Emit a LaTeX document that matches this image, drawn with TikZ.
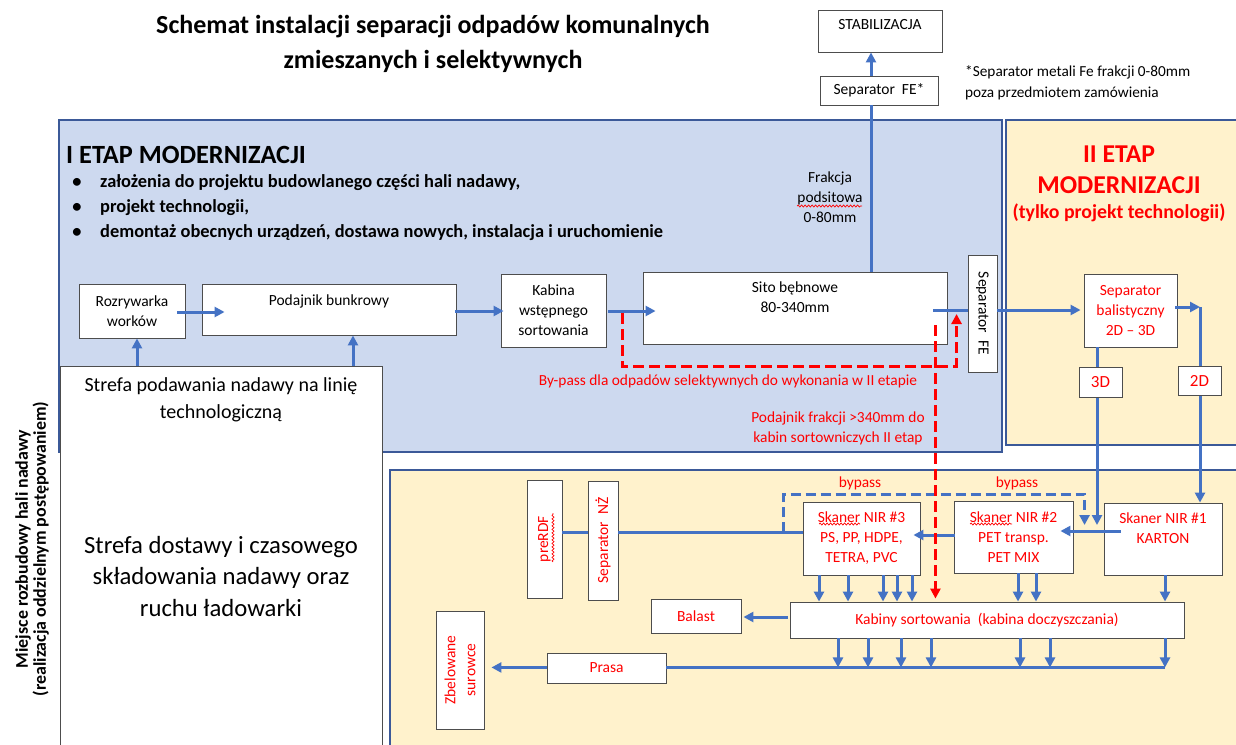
\documentclass[tikz,border=0pt]{standalone}
\usepackage{fontspec}
\setmainfont{Carlito}
\usetikzlibrary{calc,arrows.meta,decorations.pathmorphing}
\definecolor{flowblue}{HTML}{4472C4}
\definecolor{regblue}{HTML}{CDD9EF}
\definecolor{regyel}{HTML}{FFF2CC}
\definecolor{regline}{HTML}{3B5998}
\definecolor{boxline}{HTML}{4D4D4D}
\definecolor{txtred}{HTML}{FF0000}
\newcommand\fsbox{\fontsize{15.5}{20}\selectfont}
\newcommand\fstitle{\fontsize{26}{35}\selectfont\bfseries}
\newcommand\fsetapA{\fontsize{26.3}{30}\selectfont\bfseries}
\newcommand\fsbul{\fontsize{18.4}{25}\selectfont\bfseries}
\newcommand\fsnote{\fontsize{15.3}{21}\selectfont}
\newcommand\fsred{\fontsize{15.4}{20}\selectfont}
\newcommand\fsetapB{\fontsize{25.7}{31}\selectfont\bfseries}
\newcommand\fsetapC{\fontsize{19.8}{20}\selectfont\bfseries}
\newcommand\fsstrA{\fontsize{20}{27}\selectfont}
\newcommand\fsstrB{\fontsize{24.7}{31.5}\selectfont}
\newcommand\fsside{\fontsize{17.9}{18}\selectfont\bfseries}
\newcommand\fslab{\fontsize{17}{20}\selectfont}
\begin{document}
\begin{tikzpicture}[x=1pt,y=-1pt,
  box/.style={draw=boxline,line width=0.9pt,fill=white,inner sep=0pt,align=center,font=\fsbox},
  redbox/.style={box,text=txtred},
  lbl/.style={inner sep=0pt,anchor=center,align=center,font=\fsbox},
  txt/.style={inner sep=0pt,align=center},
  flow/.style={draw=flowblue,line width=3pt},
  arr/.style={flow,-{Triangle[length=10pt,width=10pt]}},
  bypassred/.style={draw=txtred,line width=3pt,dash pattern=on 11pt off 5pt,-{Triangle[length=10pt,width=10pt]}},
  bypassblue/.style={draw=flowblue,line width=3pt,dash pattern=on 10pt off 5pt,-{Triangle[length=10pt,width=10pt]}},
  wavy/.style={draw=txtred,line width=0.7pt,decorate,decoration={snake,amplitude=1pt,segment length=3.5pt}},
  region/.style={draw=regline,line width=1.2pt}]
\useasboundingbox (0,0) rectangle (1236,744);
\clip (0,0) rectangle (1236,744);
% regions
\path[region,fill=regblue] (59,120) rectangle (1002,452);
\path[region,fill=regyel] (1006,120) rectangle (1245,445);
\path[region,fill=regyel] (390,470) rectangle (1245,755);
% strefa
\node[draw=boxline,line width=0.9pt,fill=white,minimum width=322pt,minimum height=395pt,inner sep=0pt,anchor=north west] (strefa) at (60,366) {};
\node[txt,font=\fsstrA] (strefaA) at (221,399.5) {Strefa podawania nadawy na linię\\technologiczną};
\node[txt,font=\fsstrB] (strefaB) at (221,576.5) {Strefa dostawy i czasowego\\składowania nadawy oraz\\ruchu ładowarki};
\node[txt,font=\fsside,rotate=90] (side) at (32,549) {Miejsce rozbudowy hali nadawy\\(realizacja oddzielnym postępowaniem)};
% titles
\node[txt,font=\fstitle] (title) at (433,44) {Schemat instalacji separacji odpadów komunalnych\\zmieszanych i selektywnych};
\node[txt,font=\fsetapA,anchor=west] (etap1) at (66,155) {I ETAP MODERNIZACJI};
\node[txt,font=\fsbul,anchor=base west] (b1) at (100,187) {założenia do projektu budowlanego części hali nadawy,};
\node[txt,font=\fsbul,anchor=base west] (b2) at (100,212) {projekt technologii,};
\node[txt,font=\fsbul,anchor=base west] (b3) at (100,237) {demontaż obecnych urządzeń, dostawa nowych, instalacja i uruchomienie};
\foreach \yy/\nm in {187/d1,212/d2,237/d3}
  \node[txt,font=\fsbul,anchor=base] (\nm) at (77,\yy) {\textbullet};
\node[txt,font=\fsnote,align=left,anchor=west] (note) at (965,82.5) {*Separator metali Fe frakcji 0-80mm\\poza przedmiotem zamówienia};
\node[txt,font=\fsred] (frakcja) at (830,197.5) {Frakcja\\podsitowa\\0-80mm};
\node[txt,text=txtred,font=\fsetapB] (etap2) at (1119,170) {II ETAP\\MODERNIZACJI};
\node[txt,text=txtred,font=\fsetapC] (etap2b) at (1119,213) {(tylko projekt technologii)};
\node[txt,text=txtred,font=\fsred,anchor=base] (bypasslbl) at (728,385) {By-pass dla odpadów selektywnych do wykonania w II etapie};
\node[txt,text=txtred,font=\fsred] (podlbl) at (838,428) {Podajnik frakcji >340mm do\\kabin sortowniczych II etap};
\node[txt,text=txtred,font=\fsred,anchor=base] (bp1) at (860,487) {bypass};
\node[txt,text=txtred,font=\fsred,anchor=base] (bp2) at (1017,487) {bypass};
% boxes
\node[box,minimum width=124pt,minimum height=42pt,label={[lbl,yshift=-15pt]north:STABILIZACJA}] (stab) at (880,31) {};
\node[box,minimum width=118pt,minimum height=29pt] (sepfes) at (879,90.5) {Separator~~FE*};
\node[box,minimum width=106pt,minimum height=54pt] (rozr) at (132,311) {Rozrywarka\\worków};
\node[box,minimum width=254pt,minimum height=51pt,label={[lbl,yshift=-18pt]north:Podajnik bunkrowy}] (pod) at (329,309.5) {};
\node[box,minimum width=105pt,minimum height=73pt] (kab) at (553.5,310.5) {Kabina\\wstępnego\\sortowania};
\node[box,minimum width=304pt,minimum height=72pt,label={[lbl,yshift=-26pt]north:Sito bębnowe\\80-340mm}] (sito) at (795,308) {};
\node[box,rotate=-90,minimum width=117pt,minimum height=29pt] (sepfe) at (982.5,313.5) {Separator~~FE};
\node[redbox,minimum width=93pt,minimum height=73pt] (bal) at (1130.5,310.5) {Separator\\balistyczny\\2D – 3D};
\node[redbox,minimum width=118pt,minimum height=72pt,label={[lbl,text=txtred,yshift=-26pt]north:Skaner NIR \#1\\KARTON}] (nir1) at (1163,539) {};
\node[redbox,minimum width=119pt,minimum height=72pt] (nir2) at (1013.5,537) {Skaner NIR \#2\\PET transp.\\PET MIX};
\node[redbox,minimum width=117pt,minimum height=73pt] (nir3) at (861.5,538.5) {Skaner NIR \#3\\PS, PP, HDPE,\\TETRA, PVC};
\node[redbox,rotate=90,minimum width=118pt,minimum height=35pt] (prerdf) at (544.5,539) {preRDF};
\node[redbox,rotate=90,minimum width=119pt,minimum height=30pt] (sepnz) at (603,540.5) {Separator~~NŻ};
\node[redbox,minimum width=90pt,minimum height=34pt] (balast) at (696,616) {Balast};
\node[redbox,minimum width=394pt,minimum height=36pt] (kabiny) at (987,620) {Kabiny sortowania~~(kabina doczyszczania)};
\node[redbox,minimum width=119pt,minimum height=30pt] (prasa) at (606.5,668) {Prasa};
\node[redbox,rotate=90,minimum width=118pt,minimum height=48pt] (zbel) at (460,670) {Zbelowane\\surowce};
% spell-check wavy underlines
\draw[wavy] (797,206) -- (862,206);
\draw[wavy] (819,524) -- (860,524);
\draw[wavy] (970,524) -- (1012,524);
\draw[wavy] (553,562) -- (553,513);
% feed arrows
\draw[arr] ($(rozr.south |- strefa.north)+(5,0)$) -- ($(rozr.south)+(5,0)$);
\draw[arr] ($(pod.south |- strefa.north)+(24,0)$) -- ($(pod.south)+(24,0)$);
% main line
\draw[arr] ($(rozr.east)+(-8,1)$) -- ($(rozr.east -| pod.west)+(23,1)$);
\draw[arr] ($(pod.east)+(-1,1.5)$) -- ($(pod.east -| kab.west)+(3,1.5)$);
\draw[arr] ($(kab.east)+(2,0.5)$) -- ($(kab.east -| sito.west)+(13,0.5)$);
\coordinate (sitoout) at ($(sito.east)+(-14,2)$);
\draw[flow] (sitoout) -- (sitoout -| sepfe.south);
\draw[arr] (sitoout -| sepfe.north) -- ($(sitoout -| bal.west)+(-3,0)$);
\coordinate (sitotop) at ($(sito.north)+(76,0)$);
\draw[flow] (sitotop) -- (sitotop |- sepfes.south);
\draw[arr] (sitotop |- sepfes.north) -- (sitotop |- stab.south);
% ballistic separator outputs
\coordinate (balout) at ($(bal.east)+(-2,-3.5)$);
\coordinate (drop2d) at ($(nir1.north)+(37,0)$);
\draw[arr] (balout) -- (balout -| drop2d);
\draw[arr] (balout -| drop2d) -- (drop2d);
\coordinate (drop3d) at ($(bal.south)+(-33.5,0)$);
\coordinate (merge) at ($(nir1.west)+(-7,-14)$);
\draw[arr] (drop3d) -- (drop3d |- merge);
% scanners chain
\draw[arr] ($(nir1.west)+(17,-8)$) -- ($(nir2.east)+(-13,-6)$);
\draw[arr] ($(nir2.west)+(1,-2)$) -- ($(nir3.east)+(-7,-3.5)$);
\coordinate (rdfline) at ($(nir3.west)+(0,-6.5)$);
\draw[flow] (rdfline) -- (rdfline -| sepnz.south);
\draw[flow] (rdfline -| sepnz.north) -- (rdfline -| prerdf.south);
\draw[bypassblue] ($(rdfline)+(-19,0)$) -- ($(rdfline)+(-19,-38)$) -| ($(merge)+(-12,0)$);
% red bypasses
\draw[bypassred] ($(kab.east)+(16,2.5)$) |- ($(sitoout -| sepfe.south)+(-11,56)$) -- ($(sitoout -| sepfe.south)+(-11,4)$);
\coordinate (redv) at ($(sito.east)+(-12,17)$);
\draw[bypassred] (redv) -- ($(redv |- kabiny.north)+(0,-3)$);
% to sorting cabins
\foreach \dx in {-42.5,-13.5,21.5,35.5,50.5}
  \draw[arr] ($(nir3.south)+(\dx,0)$) -- ($(nir3.south |- kabiny.north)+(\dx,0)$);
\foreach \dx in {4.5,22.5}
  \draw[arr] ($(nir2.south)+(\dx,0)$) -- ($(nir2.south |- kabiny.north)+(\dx,0)$);
\draw[arr] ($(nir1.south)+(2,0)$) -- ($(nir1.south |- kabiny.north)+(2,0)$);
% from sorting cabins
\coordinate (colR) at ($(kabiny.south)+(178,29)$);
\foreach \dx in {-149,-119,-86,-56,33,63,178}
  \draw[arr] ($(kabiny.south)+(\dx,0)$) -- ($(kabiny.south |- colR)+(\dx,0)$);
\draw[flow] (colR) -- (colR -| prasa.east);
\draw[arr] (colR -| prasa.west) -- ($(colR -| zbel.south)+(7,0)$);
\draw[arr] ($(kabiny.west |- balast.east)+(-2,1)$) -- ($(balast.east)+(2,1)$);
% 3D / 2D tags
\node[redbox,font=\fslab,minimum width=43pt,minimum height=30pt] (l3d) at (1100.5,382) {3D};
\node[redbox,font=\fslab,minimum width=43pt,minimum height=29pt] (l2d) at (1199.5,380.5) {2D};
\end{tikzpicture}
\end{document}
